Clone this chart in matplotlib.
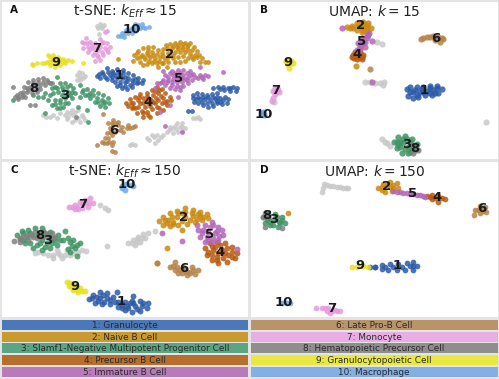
import matplotlib
matplotlib.use('Agg')
import matplotlib.pyplot as plt

# cluster colours, index 0 is unlabelled grey
colors = ['#c8c8c8', '#2b5aa8', '#c98a10', '#3f9464', '#b85a10', '#b365b8',
          '#b5834a', '#e59ade', '#808080', '#e8e020', '#6fa8e8']
legend_colors = ['#4a78b8', '#c99a2e', '#5aa582', '#b96f2c', '#b87ab8',
                 '#b89468', '#e8aee4', '#8e8e8e', '#e8e840', '#82b0e6']
legend_left = ['1: Granulocyte', '2: Naive B Cell',
               '3: Slamf1-Negative Multipotent Progenitor Cell',
               '4: Precursor B Cell', '5: Immature B Cell']
legend_right = ['6: Late Pro-B Cell', '7: Monocyte',
                '8: Hematopoietic Precursor Cell',
                '9: Granulocytopoietic Cell', '10: Macrophage']

# t-SNE k=15, embedding
a_grey = [(290,78),(300,72),(312,75),(305,85),(295,85),(298,103),(232,225),(245,220),(255,228),(240,240),(232,240),
          (130,345),(150,352),(170,355),(160,345),(200,335),(215,330),(235,330),(205,350),(220,345),(235,355),(255,360),
          (225,360),(240,365),(200,358),(440,415),(455,405),(470,405),(490,405),(475,420),(465,430),(500,395),(515,385),
          (530,370),(545,370),(555,385),(535,395),(520,398),(580,355),(595,352),(600,358),(390,435),(405,435),(510,380),(545,380),
          (138,352),(180,340),(195,345),(210,340),(225,335),(245,345),(250,352),(215,365),(462,410),(448,420),(482,412),(525,378),
          (540,382),(508,390),(545,392),(528,388),(240,230),(248,235),(238,215),(305,78),(395,432),(588,355)]
a_1 = [(290,228),(305,215),(320,205),(335,212),(350,208),(370,210),(385,220),(400,225),(415,235),(430,240),(425,250),
       (300,235),(315,230),(330,225),(345,225),(360,225),(375,230),(395,240),(410,250),(345,245),(360,245),(375,245),
       (390,255),(350,258),(365,265),(380,268),(395,262),(320,238),(335,240),(405,238),
       (310,222),(325,215),(340,218),(355,215),(370,220),(385,235),(400,248),(350,235),(365,235),(380,242),(335,232),(360,255),
       (375,257),(415,245),(298,222),
       (578,285),(590,280),(605,283),(620,285),(635,282),(650,278),(640,265),(655,260),(670,262),(685,265),(700,262),
       (712,265),(708,272),(690,272),(672,270),(660,295),(675,292),(685,297),(680,308),(665,312),(650,310),(640,318),
       (625,320),(610,315),(595,310),(582,305),(578,295),(600,298),(615,297),(630,300),(645,298),(660,305),(565,332),(575,333),
       (595,290),(610,290),(625,292),(640,290),(650,290),(588,298),(605,305),(620,308),(635,310),(650,303),(670,300),(690,265),(660,268)]
a_2 = [(402,165),(415,152),(430,145),(445,140),(460,142),(475,150),(490,148),(497,135),(510,132),(525,130),(540,127),
       (555,128),(570,130),(582,140),(590,152),(597,165),(605,175),(615,185),(625,186),(600,185),(410,175),(425,165),
       (440,158),(455,155),(470,162),(485,160),(500,145),(515,145),(530,142),(545,140),(560,142),(575,150),(585,165),
       (420,185),(435,178),(450,172),(465,175),(480,172),(495,178),(510,165),(525,155),(540,155),(555,155),(570,162),
       (580,178),(440,192),(455,188),(470,190),(485,188),(505,185),(520,175),(535,170),(550,168),(565,175),(540,185),
       (555,183),(500,200),(475,200),(430,195),(355,176),(400,184),
       (420,170),(432,172),(445,165),(460,165),(448,182),(462,182),(476,182),(490,168),(503,158),(518,138),(533,135),(548,133),
       (563,135),(565,150),(550,148),(535,148),(520,165),(575,170),(590,172),(505,172),(525,185),(412,160),(445,150),(490,190)]
a_3 = [(100,285),(130,290),(150,250),(165,260),(180,250),(195,250),(210,255),(220,265),(225,280),(215,295),(205,310),
       (190,320),(170,325),(155,315),(145,300),(160,280),(175,275),(190,270),(205,275),(165,300),(180,300),(195,295),
       (245,275),(260,268),(280,270),(295,280),(310,285),(325,295),(328,310),(315,320),(300,318),(285,305),(270,295),
       (255,285),(240,290),(305,300),(290,295),(270,280),(135,340),(265,365),(260,330),(235,320),(180,325),(240,255),(170,232),(40,300),
       (155,265),(170,265),(185,262),(200,262),(215,275),(150,285),(135,280),(165,312),(180,310),(195,308),(210,285),(200,285),
       (185,285),(115,290),(265,285),(280,285),(295,305),(310,310),(315,305),(250,270)]
a_4 = [(378,310),(390,298),(405,290),(420,282),(440,280),(455,270),(470,262),(485,268),(495,280),(510,290),(512,300),
       (500,315),(490,330),(470,340),(450,350),(430,350),(410,340),(395,325),(385,318),(400,310),(415,300),(430,295),
       (445,295),(460,285),(475,280),(490,295),(475,300),(460,305),(445,310),(430,310),(415,320),(425,332),(440,335),
       (455,328),(470,320),(485,310),(405,325),(450,318),(435,322),
       (400,320),(420,308),(437,303),(452,300),(467,293),(482,288),(500,302),(495,305),(465,310),(478,325),(445,345),(430,340),
       (418,290),(440,288),(465,272),(478,270),(392,310)]
a_5 = [(490,212),(515,212),(535,210),(550,210),(570,212),(580,222),(585,230),(575,240),(565,250),(550,258),(540,270),
       (525,268),(510,265),(495,255),(480,250),(470,250),(465,265),(490,240),(505,230),(520,225),(535,225),(550,225),
       (565,230),(500,245),(515,245),(530,245),(545,245),(555,238),(600,225),(615,225),(625,228),(610,238),(595,235),
       (600,200),(670,215),(535,290),(510,315),(480,335),(545,397),(495,378),
       (495,225),(510,220),(525,218),(540,218),(560,220),(572,225),(560,240),(545,235),(530,235),(515,255),(530,258),(520,238),
       (505,240),(485,245),(540,262),(605,232)]
a_6 = [(325,370),(340,360),(355,365),(365,380),(385,375),(405,378),(390,385),(370,395),(355,375),(340,375),(330,385),
       (320,400),(315,415),(305,425),(320,430),(335,435),(340,425),(325,415),(335,405),(345,395),(335,452),(345,455),(292,436),(308,343),
       (348,368),(335,368),(360,390),(380,385),(398,380),(312,430),(328,425),(330,395)]
a_7 = [(245,125),(258,115),(270,125),(285,130),(300,118),(305,130),(320,130),(330,140),(325,155),(310,165),(300,180),
       (285,182),(280,165),(265,155),(250,145),(265,140),(280,145),(295,150),(315,145),(300,140),(315,95),(322,92),
       (252,130),(262,128),(275,135),(290,140),(310,125),(320,150),(305,155),(290,165),(295,172),(270,148),(285,155)]
a_8 = [(40,262),(45,290),(55,298),(65,290),(70,275),(72,260),(85,245),(100,240),(115,238),(130,235),(145,245),(155,250),
       (135,255),(120,255),(105,255),(90,260),(80,275),(95,280),(110,275),(120,268),(60,280),(50,285),(90,315),(105,315),(228,350),
       (100,248),(115,245),(128,245),(140,240),(95,268),(110,265),(80,265),(70,285),(55,290),(85,270),(75,290)]
a_9 = [(95,192),(110,190),(125,188),(145,165),(160,165),(175,170),(190,178),(205,180),(215,182),(195,190),(180,195),
       (165,200),(150,195),(140,185),(155,180),(170,183),(185,185),(248,190),
       (150,172),(165,175),(180,178),(160,190),(148,185),(172,192),(195,182),(135,190),(100,195)]
a_10 = [(355,108),(365,100),(378,90),(395,85),(410,80),(425,72),(435,85),(448,82),(420,85),(405,92),(385,100),(372,110),(405,72),(395,98),
        (385,92),(400,88),(415,75),(390,90),(375,100),(362,108),(430,80)]

# UMAP k=15
b_grey = [(380,127),(395,132),(345,245),(360,247),(375,250),(390,250),(403,245),(400,255),(707,366),(395,418),(410,430),(420,437),(405,425),(73,305)]
b_1 = [(470,268),(480,260),(500,262),(520,262),(540,258),(560,258),(575,268),(565,280),(545,285),(525,285),(505,290),
       (488,295),(475,288),(490,275),(510,275),(530,272),(550,270),
       (515,268),(495,270),(540,265),(560,265),(480,275),(500,285),(520,277),(540,278),(555,278)]
b_2 = [(290,82),(305,78),(320,70),(340,65),(355,70),(362,85),(350,92),(335,95),(320,90),(330,80),(345,80),(317,199),
       (310,85),(325,78),(340,75),(350,85),(300,83),(335,70),(350,75),(340,90)]
b_3 = [(432,425),(445,410),(465,407),(485,418),(500,432),(495,450),(475,460),(455,458),(440,445),(460,430),(475,440),(480,425),(450,425),
       (440,425),(445,435),(460,418),(470,418),(490,435),(485,450),(465,448),(450,440),(480,455)]
b_4 = [(305,170),(315,155),(330,155),(340,165),(335,178),(320,178),(325,167),(310,165),(320,162),(335,170),(312,175),(328,172)]
b_5 = [(358,100),(350,115),(340,130),(330,140),(320,150),(335,115),(325,130),(345,140),(365,122),(277,83),(365,245),
       (345,125),(335,125),(350,105),(330,148),(340,120),(355,105)]
b_6 = [(513,116),(530,112),(550,108),(565,110),(580,118),(570,125),(555,120),(360,207),(520,114),(540,110),(560,115),(575,115)]
b_7 = [(70,272),(80,265),(88,275),(75,283),(70,295),(65,302),(75,265),(85,270),(78,275)]
b_8 = [(490,440),(505,450),(490,458)]
b_9 = [(108,182),(122,182),(115,192),(116,205),(128,190),(112,185),(118,180),(120,190)]
b_10 = [(35,340),(42,345),(38,335)]

# t-SNE k=150
c_grey = [(300,135),(315,145),(325,150),(385,250),(400,240),(415,230),(430,222),(445,218),(465,213),(420,245),(405,255),
          (435,235),(322,258),(105,280),(130,280),(160,285),(185,295),(210,285),(235,275),(258,272),(170,270),(200,270),
          (395,248),(410,245),(425,235),(115,275),(145,285),(175,280),(195,285),(220,280),(245,270),(160,295),(180,285),(412,238)]
c_1 = [(268,418),(280,405),(300,397),(320,400),(340,412),(355,425),(375,425),(395,422),(420,422),(445,430),(440,445),
       (420,452),(395,455),(375,450),(355,440),(330,432),(305,432),(285,428),(300,415),(320,415),(380,437),(405,438),(425,437),(352,395),(398,408),
       (290,410),(310,405),(330,420),(345,425),(365,435),(385,445),(400,430),(430,430),(295,422),(312,425),(275,415),(410,448),(390,430),(365,445)]
c_2 = [(478,182),(490,170),(510,160),(530,152),(555,145),(580,150),(600,155),(620,162),(625,175),(605,180),(585,185),
       (560,192),(535,195),(510,198),(490,195),(505,180),(530,170),(555,170),(580,168),(600,168),(545,183),(520,185),(545,210),(500,263),(470,310),
       (495,180),(515,170),(535,160),(555,155),(575,158),(595,162),(610,172),(520,192),(500,188),(570,180),(590,178),(545,160)]
c_3 = [(50,225),(65,212),(85,210),(105,205),(125,205),(150,215),(175,225),(190,240),(170,255),(150,265),(125,270),(100,265),
       (75,250),(60,238),(80,230),(165,240),(140,248),(205,235),(220,240),(240,250),(225,265),(210,275),(232,288),(195,212),(120,250),
       (70,220),(90,218),(115,222),(135,220),(160,235),(180,240),(155,250),(135,262),(110,255),(90,250),(70,240),(125,240),(210,245),(230,255),(215,258),(205,268)]
c_4 = [(615,265),(630,250),(650,245),(675,250),(695,260),(710,280),(705,295),(680,305),(655,308),(635,300),(620,285),(640,270),(665,270),(685,285),(650,290),
       (625,275),(645,260),(660,255),(680,265),(695,275),(695,290),(670,295),(650,300),(635,285),(655,280),(675,280),(635,258)]
c_5 = [(595,210),(615,195),(635,185),(655,200),(665,210),(670,225),(655,240),(635,245),(615,245),(600,230),(625,215),(645,220),(590,195),(710,268),(545,243),(485,220),
       (610,210),(630,200),(650,212),(658,228),(640,235),(620,232),(605,220),(625,240),(640,195)]
c_6 = [(510,322),(525,305),(530,320),(550,322),(575,322),(595,330),(585,342),(560,345),(535,338),(555,332),(470,310),
       (520,318),(540,330),(565,335),(580,330),(570,340),(545,340),(525,330)]
c_7 = [(208,140),(225,135),(240,125),(255,120),(270,115),(280,130),(265,140),(245,145),(225,148),(250,133),
       (215,140),(232,140),(245,130),(258,130),(268,128),(235,148)]
c_8 = [(42,242),(60,235),(80,225),(105,215),(130,213),(155,220),(165,232),(140,232),(110,235),(85,240),
       (60,245),(70,232),(95,225),(120,222),(145,222),(150,235),(125,230),(100,232)]
c_9 = [(200,365),(212,375),(225,380),(240,385),(255,392),(235,397),(218,390),(207,378),(215,382),(228,390),(245,392),(210,370),(222,372),(232,385)]
c_10 = [(365,78),(378,72),(392,75),(400,78),(375,90),(365,85)]

# UMAP k=150
d_grey = [(222,72),(240,77),(260,80),(280,83),(295,83),(215,97),(220,85),(230,75),(250,78),(270,82),(287,83)]
d_1 = [(375,320),(395,315),(420,312),(445,312),(470,310),(490,305),(502,318),(490,330),(465,330),(440,330),(415,330),(395,328),(360,320),
       (405,322),(430,320),(455,320),(480,318),(490,318),(375,322)]
d_2 = [(385,85),(400,72),(420,65),(440,70),(445,85),(425,92),(405,95),(420,80),(113,160),(395,80),(410,75),(430,75),(430,85),(395,90)]
d_3 = [(40,170),(55,162),(75,162),(95,172),(105,190),(85,200),(60,195),(70,180),(88,185),(45,190),
       (55,175),(60,185),(80,172),(90,190),(70,195),(50,180),(95,180)]
d_4 = [(530,108),(545,105),(565,108),(585,118),(565,125),(545,118),(555,115),(575,115),(540,112)]
d_5 = [(430,92),(450,95),(470,100),(490,103),(510,105),(525,110),(440,95),(460,98),(480,102),(500,105),(518,108)]
d_6 = [(675,150),(690,138),(705,140),(708,155),(690,160),(672,165),(683,150),(695,148),(700,152)]
d_7 = [(198,445),(215,445),(235,445),(255,450),(270,453),(240,458),(225,445),(245,452),(260,452),(230,452)]
d_8 = [(38,170),(45,160),(55,172),(45,200),(95,205)]
d_9 = [(305,320),(320,320),(340,318),(355,320)]
d_10 = [(95,428),(110,428),(120,428)]

panel_a = [a_grey, a_1, a_2, a_3, a_4, a_5, a_6, a_7, a_8, a_9, a_10]
panel_b = [b_grey, b_1, b_2, b_3, b_4, b_5, b_6, b_7, b_8, b_9, b_10]
panel_c = [c_grey, c_1, c_2, c_3, c_4, c_5, c_6, c_7, c_8, c_9, c_10]
panel_d = [d_grey, d_1, d_2, d_3, d_4, d_5, d_6, d_7, d_8, d_9, d_10]

# where the number of each cluster sits
labels_a = [(358,227),(508,162),(195,285),(445,307),(537,236),(342,390),(290,145),(101,265),(167,186),(396,87)]
labels_b = [(523,270),(332,77),(470,434),(322,164),(336,124),(558,114),(77,271),(495,446),(115,187),(42,342)]
labels_c = [(362,425),(552,171),(143,242),(659,277),(629,222),(551,327),(248,132),(119,227),(226,380),(381,74)]
labels_d = [(442,317),(410,80),(72,177),(562,112),(487,99),(696,146),(244,447),(50,165),(331,317),(102,427)]

fig = plt.figure(figsize=(4.99, 3.79), dpi=100, facecolor='#e4e4e4')


def pos(x0, y0, x1, y1):
    return [x0/499, 1 - y1/379, (x1 - x0)/499, (y1 - y0)/379]


def draw_panel(box, clusters, labels, title, letter, size):
    # embedding coordinates are in 3x crop units, so the limits follow the box
    x_off = 0 if box[0] < 100 else 250
    y_off = 0 if box[1] < 100 else 160
    ax = fig.add_axes(pos(*box))
    ax.set_xlim(3*(box[0] - x_off), 3*(box[2] - x_off))
    ax.set_ylim(3*(box[3] - y_off), 3*(box[1] - y_off))
    ax.set_xticks([])
    ax.set_yticks([])
    for spine in ax.spines.values():
        spine.set_visible(False)
    for i, pts in enumerate(clusters):
        ax.scatter([p[0] for p in pts], [p[1] for p in pts],
                   s=size, color=colors[i], alpha=0.85, linewidths=0, zorder=2)
    for i, (x, y) in enumerate(labels):
        ax.text(x, y, str(i + 1), ha='center', va='center', fontsize=9.5,
                fontweight='bold', color='#1a1a1a', zorder=3)
    ax.text(0.5, 0.937, title, transform=ax.transAxes, ha='center', va='center',
            fontsize=10, color='#222222')
    ax.text(0.035, 0.945, letter, transform=ax.transAxes, ha='left', va='center',
            fontsize=7.5, fontweight='bold', color='#111111')
    return ax


draw_panel((1.5, 1.5, 248, 159), panel_a, labels_a, r't-SNE: $k_{Eff} \approx 15$', 'A', 12)
draw_panel((251, 1.5, 498, 159), panel_b, labels_b, r'UMAP: $k = 15$', 'B', 20)
draw_panel((1.5, 161.5, 248, 317), panel_c, labels_c, r't-SNE: $k_{Eff} \approx 150$', 'C', 18)
draw_panel((251, 161.5, 498, 317), panel_d, labels_d, r'UMAP: $k = 150$', 'D', 17)

rows_y = [320, 331.5, 343, 354.7, 366.5]
for x0, x1, names, cols in [(1.7, 248, legend_left, legend_colors[:5]),
                            (250.7, 497.5, legend_right, legend_colors[5:])]:
    for i, (name, c) in enumerate(zip(names, cols)):
        ax = fig.add_axes(pos(x0, rows_y[i], x1, rows_y[i] + 10.4))
        ax.set_facecolor(c)
        ax.set_xticks([])
        ax.set_yticks([])
        for spine in ax.spines.values():
            spine.set_visible(False)
        ax.text(0.5, 0.45, name, transform=ax.transAxes, ha='center', va='center',
                fontsize=6.4, color='#2a2a2a')

fig.savefig('out.png', dpi=100)
